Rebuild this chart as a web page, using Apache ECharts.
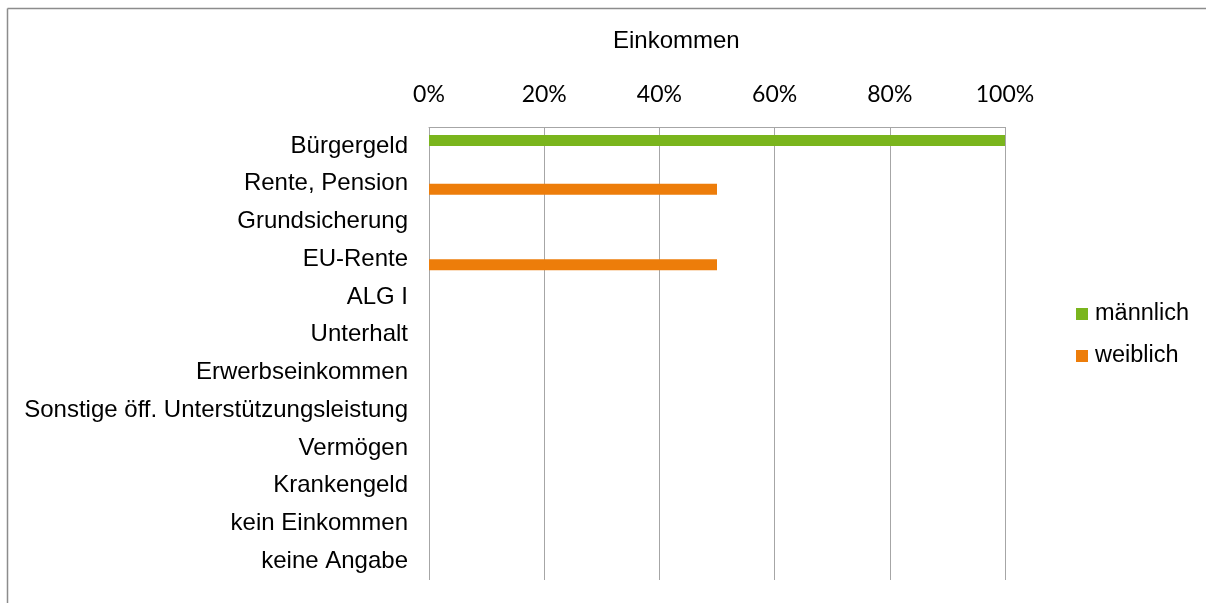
<!DOCTYPE html>
<html>
<head>
<meta charset="utf-8">
<script src="https://cdn.jsdelivr.net/npm/echarts@6/dist/echarts.min.js"></script>
<style>
  html, body { margin: 0; padding: 0; background: #fff; }
  #chart { width: 1206px; height: 603px; }
</style>
</head>
<body>
<div id="chart"></div>
<script>
// Kategorien (von oben nach unten)
const categories = [
  "Bürgergeld",
  "Rente, Pension",
  "Grundsicherung",
  "EU-Rente",
  "ALG I",
  "Unterhalt",
  "Erwerbseinkommen",
  "Sonstige öff. Unterstützungsleistung",
  "Vermögen",
  "Krankengeld",
  "kein Einkommen",
  "keine Angabe"
];
// Anteile je Geschlecht
const maennlich = [1, 0, 0, 0, 0, 0, 0, 0, 0, 0, 0, 0];
const weiblich = [0, 0.5, 0, 0.5, 0, 0, 0, 0, 0, 0, 0, 0];
const xTicks = [0, 0.2, 0.4, 0.6, 0.8, 1];

const chart = echarts.init(document.getElementById("chart"));
chart.setOption({
  animation: false,
  color: ["#7ab51d", "#ed7d0a"],
  title: {
    text: "Einkommen",
    left: 613,
    top: 29,
    padding: 0,
    textStyle: {
      fontFamily: "Liberation Sans",
      fontSize: 24,
      fontWeight: "normal",
      color: "#000"
    }
  },
  legend: {
    orient: "vertical",
    left: 1076,
    top: 302,
    padding: 0,
    itemWidth: 12,
    itemHeight: 12,
    itemGap: 18,
    icon: "rect",
    textStyle: {
      fontFamily: "Liberation Sans",
      fontSize: 23.5,
      color: "#000",
      padding: [0, 0, 0, 2]
    },
    data: ["männlich", "weiblich"]
  },
  grid: {
    left: 429,
    right: 201,
    top: 127,
    bottom: 23,
    containLabel: false
  },
  xAxis: {
    type: "value",
    position: "top",
    min: xTicks[0],
    max: xTicks[xTicks.length - 1],
    interval: 0.2,
    axisLine: { show: true, lineStyle: { color: "#a6a6a6", width: 1 } },
    axisTick: { show: false },
    axisLabel: {
      margin: 21,
      fontFamily: "Lato",
      fontSize: 23,
      color: "#000",
      formatter: (v) => Math.round(v * 100) + "%"
    },
    splitLine: { show: true, lineStyle: { color: "#a6a6a6", width: 1 } }
  },
  yAxis: {
    type: "category",
    inverse: true,
    data: categories,
    axisLine: { show: false },
    axisTick: { show: false },
    axisLabel: {
      margin: 21,
      fontFamily: "Liberation Sans",
      fontSize: 24,
      color: "#000"
    }
  },
  series: [
    {
      name: "männlich",
      type: "bar",
      barWidth: 11,
      barGap: "0%",
      data: maennlich
    },
    {
      name: "weiblich",
      type: "bar",
      barWidth: 11,
      barGap: "0%",
      data: weiblich
    }
  ],
  graphic: [
    // Rahmen oben und links
    {
      type: "line",
      shape: { x1: 7.5, y1: 8.5, x2: 1206, y2: 8.5 },
      style: { stroke: "#8c8c8c", lineWidth: 1.5 }
    },
    {
      type: "line",
      shape: { x1: 7.5, y1: 8.5, x2: 7.5, y2: 603 },
      style: { stroke: "#8c8c8c", lineWidth: 1.5 }
    }
  ]
});
</script>
</body>
</html>
